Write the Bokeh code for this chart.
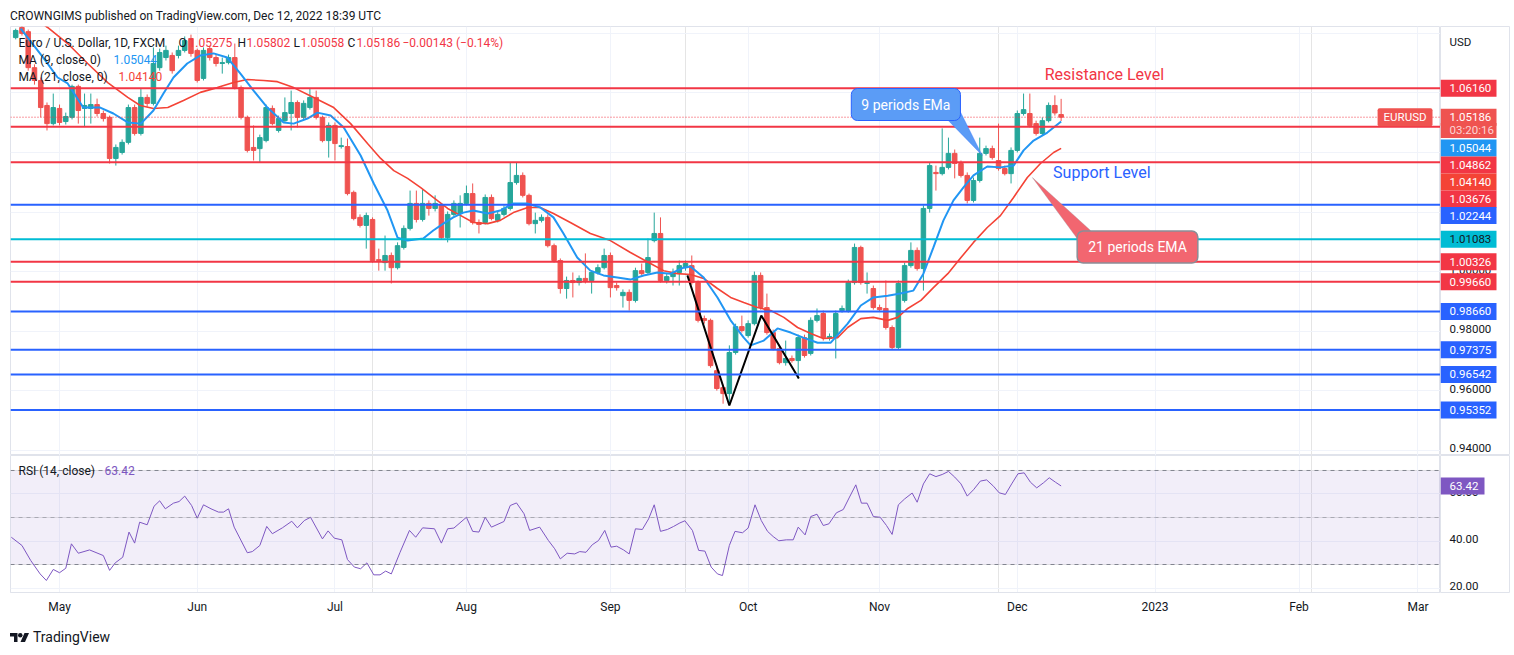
from bokeh.plotting import figure
from bokeh.models import (ColumnDataSource, Range1d, LinearAxis, FixedTicker, Grid, Span, Label,
                          BoxAnnotation, PolyAnnotation, Div)
from bokeh.layouts import column, row
from bokeh.core.properties import value
from bokeh.embed import file_html
from bokeh.resources import INLINE

# EUR/USD daily candles (FXCM), bar 0 = 2 May 2022
first_bar = -7
opens = [1.0786, 1.0820, 1.0806, 1.0685, 1.0642, 1.0558, 1.0497, 1.0548, 1.0504, 1.0518,
         1.0622, 1.0548, 1.0548, 1.0561, 1.0531, 1.0518, 1.0380, 1.0400, 1.0434, 1.0551,
         1.0464, 1.0585, 1.0565, 1.0685, 1.0719, 1.0726, 1.0726, 1.0743, 1.0783, 1.0743,
         1.0649, 1.0749, 1.0719, 1.0699, 1.0702, 1.0719, 1.0618, 1.0518, 1.0417, 1.0413,
         1.0440, 1.0548, 1.0474, 1.0507, 1.0531, 1.0568, 1.0518, 1.0551, 1.0585, 1.0518,
         1.0440, 1.0491, 1.0420, 1.0420, 1.0266, 1.0182, 1.0155, 1.0175, 1.0040, 1.0030,
         1.0054, 1.0013, 1.0081, 1.0145, 1.0229, 1.0175, 1.0229, 1.0212, 1.0222, 1.0114,
         1.0192, 1.0195, 1.0229, 1.0262, 1.0165, 1.0165, 1.0249, 1.0172, 1.0192, 1.0212,
         1.0299, 1.0323, 1.0256, 1.0161, 1.0172, 1.0182, 1.0087, 1.0037, 0.9943, 0.9970,
         0.9963, 0.9977, 0.9970, 0.9997, 1.0013, 1.0054, 0.9953, 0.9919, 0.9930, 0.9903,
         1.0003, 0.9997, 1.0104, 1.0128, 0.9970, 0.9983, 0.9997, 1.0013, 1.0020, 0.9963,
         0.9842, 0.9836, 0.9667, 0.9610, 0.9590, 0.9728, 0.9815, 0.9785, 0.9825, 0.9987,
         0.9879, 0.9795, 0.9741, 0.9694, 0.9708, 0.9701, 0.9778, 0.9725, 0.9836, 0.9859,
         0.9775, 0.9778, 0.9869, 0.9869, 0.9963, 1.0081, 0.9960, 0.9943, 0.9879, 0.9876,
         0.9812, 0.9745, 0.9903, 1.0020, 1.0071, 1.0010, 1.0212, 1.0333, 1.0329, 1.0350,
         1.0397, 1.0363, 1.0323, 1.0239, 1.0306, 1.0397, 1.0413, 1.0373, 1.0346, 1.0329,
         1.0407, 1.0531, 1.0531, 1.0497, 1.0464, 1.0507, 1.0558, 1.05275]
highs = [1.0816, 1.0830, 1.0813, 1.0696, 1.0652, 1.0568, 1.0598, 1.0561, 1.0534, 1.0628,
         1.0628, 1.0598, 1.0598, 1.0581, 1.0541, 1.0524, 1.0427, 1.0444, 1.0561, 1.0561,
         1.0615, 1.0595, 1.0753, 1.0749, 1.0759, 1.0736, 1.0759, 1.0790, 1.0796, 1.0749,
         1.0753, 1.0759, 1.0729, 1.0719, 1.0729, 1.0766, 1.0625, 1.0524, 1.0491, 1.0460,
         1.0561, 1.0558, 1.0524, 1.0585, 1.0608, 1.0575, 1.0575, 1.0615, 1.0608, 1.0524,
         1.0501, 1.0501, 1.0450, 1.0447, 1.0272, 1.0192, 1.0198, 1.0182, 1.0077, 1.0121,
         1.0064, 1.0098, 1.0155, 1.0272, 1.0272, 1.0276, 1.0239, 1.0256, 1.0229, 1.0202,
         1.0239, 1.0256, 1.0289, 1.0296, 1.0175, 1.0259, 1.0259, 1.0202, 1.0222, 1.0366,
         1.0366, 1.0333, 1.0262, 1.0198, 1.0192, 1.0192, 1.0094, 1.0044, 0.9983, 0.9997,
         0.9987, 1.0061, 1.0003, 1.0024, 1.0077, 1.0064, 0.9963, 0.9940, 0.9940, 1.0013,
         1.0027, 1.0111, 1.0198, 1.0182, 0.9993, 1.0010, 1.0037, 1.0037, 1.0054, 0.9970,
         0.9852, 0.9842, 0.9684, 0.9620, 0.9752, 0.9825, 0.9852, 0.9836, 1.0000, 0.9997,
         0.9926, 0.9805, 0.9752, 0.9768, 0.9718, 0.9788, 0.9788, 0.9846, 0.9876, 0.9869,
         0.9792, 0.9869, 0.9886, 0.9973, 1.0094, 1.0087, 0.9997, 0.9953, 0.9889, 0.9970,
         0.9819, 0.9970, 1.0030, 1.0098, 1.0081, 1.0222, 1.0366, 1.0356, 1.0481, 1.0450,
         1.0410, 1.0373, 1.0333, 1.0316, 1.0450, 1.0423, 1.0423, 1.0497, 1.0356, 1.0417,
         1.0541, 1.0598, 1.0598, 1.0507, 1.0518, 1.0568, 1.0592, 1.05802]
lows = [1.0780, 1.0793, 1.0675, 1.0628, 1.0518, 1.0474, 1.0491, 1.0491, 1.0494, 1.0511,
        1.0497, 1.0487, 1.0497, 1.0521, 1.0504, 1.0363, 1.0356, 1.0393, 1.0427, 1.0457,
        1.0457, 1.0554, 1.0558, 1.0675, 1.0709, 1.0665, 1.0716, 1.0736, 1.0722, 1.0635,
        1.0642, 1.0709, 1.0689, 1.0665, 1.0696, 1.0612, 1.0511, 1.0400, 1.0373, 1.0366,
        1.0434, 1.0491, 1.0467, 1.0501, 1.0474, 1.0484, 1.0511, 1.0544, 1.0511, 1.0434,
        1.0383, 1.0373, 1.0413, 1.0256, 1.0172, 1.0148, 1.0077, 1.0030, 1.0003, 1.0003,
        0.9960, 1.0007, 1.0074, 1.0138, 1.0165, 1.0168, 1.0188, 1.0202, 1.0108, 1.0098,
        1.0185, 1.0148, 1.0222, 1.0158, 1.0128, 1.0158, 1.0172, 1.0165, 1.0185, 1.0205,
        1.0292, 1.0249, 1.0155, 1.0128, 1.0165, 1.0081, 1.0030, 0.9926, 0.9909, 0.9913,
        0.9953, 0.9960, 0.9926, 0.9990, 1.0007, 0.9913, 0.9936, 0.9879, 0.9869, 0.9896,
        0.9987, 0.9990, 1.0098, 0.9963, 0.9960, 0.9953, 0.9953, 1.0003, 0.9956, 0.9829,
        0.9825, 0.9677, 0.9600, 0.9556, 0.9550, 0.9721, 0.9795, 0.9778, 0.9819, 0.9872,
        0.9788, 0.9735, 0.9688, 0.9684, 0.9694, 0.9641, 0.9711, 0.9718, 0.9829, 0.9768,
        0.9768, 0.9708, 0.9862, 0.9862, 0.9956, 0.9956, 0.9926, 0.9872, 0.9866, 0.9805,
        0.9738, 0.9738, 0.9896, 1.0013, 1.0003, 0.9936, 1.0198, 1.0272, 1.0323, 1.0343,
        1.0313, 1.0316, 1.0229, 1.0232, 1.0299, 1.0390, 1.0376, 1.0339, 1.0323, 1.0296,
        1.0400, 1.0524, 1.0484, 1.0457, 1.0457, 1.0501, 1.0524, 1.05058]
closes = [1.0810, 1.0800, 1.0685, 1.0642, 1.0551, 1.0497, 1.0551, 1.0501, 1.0521, 1.0622,
          1.0541, 1.0558, 1.0561, 1.0531, 1.0514, 1.0380, 1.0417, 1.0434, 1.0551, 1.0464,
          1.0585, 1.0565, 1.0699, 1.0736, 1.0743, 1.0675, 1.0743, 1.0776, 1.0733, 1.0642,
          1.0743, 1.0719, 1.0699, 1.0702, 1.0719, 1.0618, 1.0518, 1.0407, 1.0407, 1.0450,
          1.0551, 1.0497, 1.0514, 1.0534, 1.0568, 1.0518, 1.0565, 1.0585, 1.0518, 1.0440,
          1.0491, 1.0430, 1.0423, 1.0262, 1.0178, 1.0155, 1.0188, 1.0037, 1.0037, 1.0054,
          1.0013, 1.0087, 1.0145, 1.0229, 1.0175, 1.0229, 1.0212, 1.0229, 1.0114, 1.0192,
          1.0229, 1.0229, 1.0262, 1.0165, 1.0158, 1.0249, 1.0178, 1.0192, 1.0212, 1.0299,
          1.0323, 1.0256, 1.0161, 1.0172, 1.0182, 1.0087, 1.0037, 0.9943, 0.9970, 0.9963,
          0.9977, 0.9970, 0.9997, 1.0013, 1.0054, 0.9946, 0.9946, 0.9930, 0.9903, 1.0003,
          0.9993, 1.0047, 1.0128, 0.9970, 0.9983, 0.9997, 1.0020, 1.0027, 0.9963, 0.9836,
          0.9836, 0.9684, 0.9607, 0.9590, 0.9728, 0.9815, 0.9802, 0.9825, 0.9987, 0.9879,
          0.9795, 0.9741, 0.9694, 0.9708, 0.9701, 0.9778, 0.9718, 0.9836, 0.9852, 0.9778,
          0.9782, 0.9859, 0.9876, 0.9963, 1.0081, 0.9963, 0.9963, 0.9879, 0.9872, 0.9812,
          0.9745, 0.9960, 1.0020, 1.0071, 1.0010, 1.0212, 1.0356, 1.0329, 1.0350, 1.0397,
          1.0363, 1.0323, 1.0239, 1.0306, 1.0397, 1.0413, 1.0383, 1.0346, 1.0329, 1.0407,
          1.0531, 1.0544, 1.0491, 1.0464, 1.0507, 1.0558, 1.05329, 1.05186]

# moving averages (9 and 21 close), traced as line vertices
ma9_x = [-6.2, -2.6, -0.3, 1.3, 3.8, 6.5, 8.6, 10.9, 13.0, 15.0, 16.6, 18.2, 20.4, 22.5, 24.6,
         26.8, 28.9, 31.0, 33.2, 35.8, 37.4, 39.6, 41.2, 43.3, 45.4, 48.1, 50.2, 52.4, 54.0,
         55.6, 58.1, 59.7, 61.3, 62.9, 64.5, 66.1, 68.4, 70.4, 72.5, 74.7, 76.8, 78.9, 80.5,
         82.7, 84.8, 86.9, 89.1, 91.2, 93.3, 95.5, 97.6, 99.7, 100.8, 102.9, 105.1, 107.2,
         109.3, 110.4, 112.5, 114.7, 116.8, 118.8, 121.1, 123.2, 125.9, 128.0, 130.0, 132.3,
         134.3, 136.4, 138.0, 139.6, 141.2, 142.8, 144.4, 146.0, 148.2, 150.3, 152.4, 154.0,
         155.6, 157.8, 160.0]
ma9_y = [1.0816, 1.0719, 1.0652, 1.0632, 1.0551, 1.0551, 1.0531, 1.0501, 1.0497, 1.0541, 1.0598,
         1.0652, 1.0699, 1.0726, 1.0733, 1.0719, 1.0665, 1.0608, 1.0551, 1.0501, 1.0497, 1.0514,
         1.0534, 1.0524, 1.0484, 1.0390, 1.0296, 1.0205, 1.0114, 1.0104, 1.0111, 1.0138, 1.0161,
         1.0182, 1.0198, 1.0205, 1.0195, 1.0205, 1.0229, 1.0229, 1.0215, 1.0182, 1.0128, 1.0047,
         1.0003, 0.9987, 0.9980, 0.9973, 0.9987, 0.9997, 0.9993, 1.0013, 1.0017, 0.9980, 0.9913,
         0.9836, 0.9778, 0.9752, 0.9768, 0.9809, 0.9795, 0.9778, 0.9761, 0.9761, 0.9825, 0.9886,
         0.9913, 0.9919, 0.9926, 0.9936, 0.9993, 1.0081, 1.0172, 1.0239, 1.0283, 1.0323, 1.0353,
         1.0350, 1.0356, 1.0407, 1.0440, 1.0467, 1.05044]
ma21_x = [-3.4, -1.9, 1.3, 4.5, 7.7, 10.9, 12.9, 15.0, 17.3, 19.8, 22.5, 25.2, 27.8, 30.0, 32.6,
          34.8, 37.4, 40.6, 43.8, 46.5, 49.2, 51.3, 53.4, 55.6, 57.7, 59.7, 62.0, 64.1, 66.1,
          68.4, 70.4, 72.5, 74.8, 76.8, 78.9, 81.6, 84.8, 88.0, 91.2, 94.4, 96.5, 98.7, 100.8,
          102.9, 105.1, 107.2, 109.3, 111.5, 113.6, 115.7, 117.9, 120.0, 122.0, 124.3, 125.9,
          128.0, 130.0, 132.3, 133.9, 135.5, 137.6, 139.6, 141.9, 144.0, 146.0, 148.2, 150.3,
          152.4, 154.6, 156.7, 158.8, 160.0]
ma21_y = [1.0843, 1.0820, 1.0766, 1.0699, 1.0635, 1.0585, 1.0558, 1.0548, 1.0551, 1.0575, 1.0602,
          1.0618, 1.0635, 1.0645, 1.0642, 1.0638, 1.0618, 1.0585, 1.0551, 1.0497, 1.0430, 1.0380,
          1.0339, 1.0313, 1.0282, 1.0249, 1.0212, 1.0188, 1.0165, 1.0161, 1.0172, 1.0198, 1.0215,
          1.0215, 1.0195, 1.0165, 1.0128, 1.0104, 1.0064, 1.0027, 1.0003, 0.9993, 0.9990, 0.9977,
          0.9943, 0.9913, 0.9896, 0.9879, 0.9869, 0.9846, 0.9812, 0.9792, 0.9775, 0.9778, 0.9812,
          0.9842, 0.9846, 0.9836, 0.9846, 0.9876, 0.9903, 0.9946, 0.9993, 1.0047, 1.0098, 1.0148,
          1.0188, 1.0249, 1.0316, 1.0363, 1.0400, 1.0414]

# RSI (14, close)
rsi_x = [-7.7, -6.0, -4.6, -3.1, -2.1, -1.0, 0, 1, 1.9, 3, 4.8, 7, 8, 8.9, 10.1, 11.1, 12, 12.8,
         14, 15.1, 16, 16.9, 18.2, 19.1, 20, 21.1, 22, 23, 24.2, 25.4, 26.2, 27, 27.9, 30, 30.8,
         32, 33.1, 34, 35.6, 37.1, 38, 39.1, 40.1, 42, 42.9, 43.9, 45.1, 46, 47.1, 48.1, 49.1,
         50.2, 51.2, 52.1, 53, 54.4, 55.9, 56.9, 58, 59.9, 61, 62, 63, 65, 66, 67, 68, 69, 71,
         72, 73, 74.2, 75.1, 76.7, 78.1, 79.1, 80, 81.1, 82.3, 83.1, 84.1, 85.1, 86.1, 87.1,
         88.1, 89, 90.1, 91, 92, 93.1, 94.1, 95, 96, 97.1, 98.1, 99.1, 99.9, 101.1, 102.1,
         103.1, 104.1, 105.1, 105.9, 107, 107.9, 109.1, 110, 111.1, 112.1, 113.1, 114, 114.9,
         116.1, 117.2, 118, 119.1, 120, 121, 122, 122.9, 124.1, 125.2, 126.2, 127.2, 128.1,
         129, 130, 131.1, 132.1, 133, 134, 135, 136.2, 137, 138, 139, 140, 141, 142, 143, 144,
         145, 146, 147.1, 148.1, 149.2, 150.1, 151.1, 152.1, 153.1, 154.1, 155.1, 156.1, 157.2,
         158.1, 159.1, 160]
rsi_y = [41.6, 38.1, 31.7, 26.0, 23.2, 27.9, 26.5, 28.4, 38.8, 34.8, 36.2, 33.8, 27.5, 30.7, 33.1,
         43.8, 39.1, 48.0, 46.9, 54.8, 57.1, 53.7, 56.1, 56.8, 59.1, 55.1, 49.7, 55.4, 53.7, 52.3,
         52.3, 53.7, 45.9, 35.0, 35.5, 38.1, 46.2, 43.1, 45.6, 48.4, 45.6, 48.7, 50.1, 40.9, 44.3,
         41.2, 40.5, 32.1, 28.9, 28.2, 30.7, 25.6, 25.6, 27.2, 26.0, 35.2, 44.5, 41.6, 45.6, 45.2,
         39.1, 45.2, 45.5, 50.1, 44.1, 43.8, 50.1, 45.9, 48.3, 55.1, 56.2, 51.6, 44.5, 45.9, 40.2,
         36.7, 32.4, 34.8, 34.5, 35.5, 35.2, 38.4, 40.2, 44.5, 37.4, 37.8, 36.2, 34.5, 45.2, 44.9,
         49.4, 55.4, 44.1, 44.9, 46.2, 47.7, 48.6, 44.5, 36.0, 35.7, 28.9, 26.0, 25.3, 38.1, 44.1,
         43.5, 45.5, 55.4, 48.7, 44.1, 41.9, 40.1, 40.5, 40.5, 45.9, 42.6, 50.4, 51.4, 46.6, 47.3,
         52.0, 53.4, 58.7, 63.9, 56.1, 56.1, 50.4, 50.1, 46.6, 42.8, 55.4, 57.9, 60.4, 56.5, 64.3,
         68.6, 67.4, 68.3, 69.6, 67.2, 64.3, 59.1, 61.8, 65.5, 66.0, 63.3, 60.5, 59.8, 64.3, 68.6,
         69.0, 65.0, 62.6, 64.8, 66.9, 65.0, 63.42]

# drawn levels
red_levels = [1.06160, 1.04862, 1.03676, 1.00326, 0.99660]
blue_levels = [1.02244, 0.98660, 0.97375, 0.96542, 0.95352]
cyan_levels = [1.01083]

# double-bottom sketch
pattern_x = [100.3, 107.0, 112.1, 118.1]
pattern_y = [0.9987, 0.9550, 0.9852, 0.9641]

price_ticks = [0.94, 0.96, 0.98, 1.00]
rsi_ticks = [20, 40, 60]
month_ticks = [0, 22, 44, 65, 88, 110, 131, 153, 175, 198, 217]
month_labels = ["May", "Jun", "Jul", "Aug", "Sep", "Oct", "Nov", "Dec", "2023", "Feb", "Mar"]

UP, DOWN = "#26a69a", "#ef5350"
RED, BLUE, CYAN = "#f23645", "#2962ff", "#00bcd4"
MA9_C, MA21_C, RSI_C = "#2196f3", "#f44336", "#7e57c2"
INK, GRID, EDGE = "#131722", "#f0f3fa", "#e0e3eb"
FONT = "Roboto"

X0, X1 = -7.83, 220.6
price_range = Range1d(0.9382, 1.08233)
rsi_range = Range1d(18.09, 76.38)
x_range = Range1d(X0, X1)

bars = list(range(first_bar, first_bar + len(closes)))
src = ColumnDataSource(dict(
    x=bars, o=opens, h=highs, l=lows, c=closes,
    top=[max(a, b) for a, b in zip(opens, closes)],
    bot=[min(a, b) for a, b in zip(opens, closes)],
    color=[UP if c >= o else DOWN for o, c in zip(opens, closes)],
))


def chart(height, y_range, bottom):
    f = figure(width=1440, height=height, x_range=x_range, y_range=y_range,
               output_backend="svg", toolbar_location=None, title=None,
               x_axis_location=None, y_axis_location=None,
               min_border_left=10, min_border_right=0, min_border_top=0, min_border_bottom=bottom)
    f.outline_line_color = EDGE
    f.border_fill_color = "white"
    f.add_layout(Grid(dimension=0, ticker=FixedTicker(ticks=month_ticks), grid_line_color=GRID))
    return f


def scale(height, y_range, bottom):
    # the price scale strip on the right
    f = figure(width=70, height=height, x_range=Range1d(0, 70), y_range=y_range,
               output_backend="svg", toolbar_location=None, title=None,
               x_axis_location=None, y_axis_location=None,
               min_border_left=0, min_border_right=0, min_border_top=0, min_border_bottom=bottom)
    f.outline_line_color = EDGE
    f.border_fill_color = "white"
    f.xgrid.visible = False
    f.ygrid.visible = False
    return f


def label(f, x, y, s, color=INK, size="12px", dx=0, dy=0, align="left", **kw):
    f.add_layout(Label(x=x, y=y, x_offset=dx, y_offset=dy, text=s, text_color=color,
                       text_font=FONT, text_font_size=size, text_align=align,
                       text_baseline="middle", **kw))


def tags(f, ticks, fmt, items):
    f.text(x=[9] * len(ticks), y=ticks, text=[fmt % t for t in ticks], text_color=INK,
           text_font=value(FONT), text_font_size="11.5px", text_baseline="middle", y_offset=-2)
    ts = ColumnDataSource(dict(
        y=[it[1] for it in items], text=[it[0] for it in items],
        bg=[it[2] for it in items], fg=[it[3] for it in items],
        cx=[it[4] / 2 for it in items], w=[it[4] for it in items], h=[it[5] for it in items]))
    f.rect(x="cx", y="y", width="w", height="h", height_units="screen",
           fill_color="bg", line_color=None, source=ts)
    f.text(x=9, y="y", text="text", text_color="fg", text_font=value(FONT),
           text_font_size="11.5px", text_baseline="middle", source=ts)


# ---------------- price panel ----------------
p = chart(429, price_range, 0)
p.add_layout(Grid(dimension=1, ticker=FixedTicker(ticks=[0.94, 0.96, 0.98, 1.00, 1.02, 1.04, 1.06, 1.08]),
                  grid_line_color=GRID))

p.segment(x0="x", y0="l", x1="x", y1="h", color="color", line_width=1, source=src)
p.vbar(x="x", width=0.72, top="top", bottom="bot", fill_color="color", line_color="color", source=src)

p.line(ma21_x, ma21_y, color=MA21_C, line_width=1.6)
p.line(ma9_x, ma9_y, color=MA9_C, line_width=2)
p.line(pattern_x, pattern_y, color="black", line_width=2)

for levels, col in [(red_levels, RED), (blue_levels, BLUE), (cyan_levels, CYAN)]:
    for lv in levels:
        p.add_layout(Span(location=lv, dimension="width", line_color=col, line_width=2))
p.add_layout(Span(location=closes[-1], dimension="width", line_color=RED, line_width=1, line_dash="1 2"))

# callouts
p.add_layout(PolyAnnotation(xs=[142.0, 143.8, 147.4], ys=[1.0507, 1.0541, 1.0390],
                            fill_color="#5b9cf6", fill_alpha=1, line_color="#2962ff", line_width=1))
p.add_layout(PolyAnnotation(xs=[155.4, 162.8, 164.7], ys=[1.0316, 1.0104, 1.0138],
                            fill_color="#f26670", fill_alpha=1, line_color="#8a8d96", line_width=1))
label(p, 135.2, 1.05612, "9 periods EMa", color="white", size="14px", align="center",
      background_fill_color="#5b9cf6", border_line_color="#2962ff", border_radius=6,
      padding=dict(left=10, right=10, top=8, bottom=8))
label(p, 172.2, 1.00824, "21 periods EMA", color="white", size="14px", align="center",
      background_fill_color="#f26670", border_line_color="#8a8d96", border_line_width=1.5,
      border_radius=6, padding=dict(left=11, right=11, top=8, bottom=8))
label(p, 166.9, 1.0662, "Resistance Level", color=RED, size="16px", align="center")
label(p, 166.5, 1.03338, "Support Level", color=BLUE, size="16px", align="center")

# legend rows (x = page position of each piece)
chg = closes[-1] - closes[-2]
row1 = [("Euro / U.S. Dollar, 1D, FXCM", 18, INK), ("O", 178, INK), (f"{opens[-1]:.5f}", 188, RED),
        ("H", 237, INK), (f"{highs[-1]:.5f}", 246, RED), ("L", 293, INK), (f"{lows[-1]:.5f}", 300, RED),
        ("C", 347, INK), (f"{closes[-1]:.5f}", 356, RED),
        (f"\u2212{abs(chg):.5f} (\u2212{abs(chg) / closes[-2] * 100:.2f}%)", 402, RED)]
for s, px, col in row1:
    label(p, X0, price_range.end, s, color=col, dx=px - 10, dy=-16)
label(p, X0, price_range.end, "MA (9, close, 0)", dx=8, dy=-33)
label(p, X0, price_range.end, f"{ma9_y[-1]:.5f}", color=MA9_C, dx=103, dy=-33)
label(p, X0, price_range.end, "MA (21, close, 0)", dx=8, dy=-50)
label(p, X0, price_range.end, f"{ma21_y[-1]:.5f}", color=MA21_C, dx=108, dy=-50)
label(p, X1, closes[-1], "EURUSD", color="white", size="11.5px", dx=-8, align="right",
      background_fill_color=DOWN, border_radius=2, padding=dict(left=6, right=6, top=2, bottom=2))

ps = scale(429, price_range, 0)
ps.text(x=[9], y=[1.07729], text=["USD"], text_color=INK, text_font=value(FONT),
        text_font_size="11.5px", text_baseline="middle")
# (text, shown at, background, text colour, width px, height px)
price_tags = [
    ("1.06160", 1.06160, RED, "white", 56, 17),
    (f"{closes[-1]:.5f}", closes[-1], DOWN, "white", 56, 17),
    ("03:20:16", 1.04739, DOWN, "#fcd4d4", 56, 15),
    (f"{ma9_y[-1]:.5f}", 1.04151, MA9_C, "white", 56, 17),
    ("1.04862", 1.03580, RED, "white", 56, 17),
    (f"{ma21_y[-1]:.5f}", 1.03009, MA21_C, "white", 56, 17),
    ("1.03676", 1.02434, RED, "white", 56, 17),
    ("1.02244", 1.01883, BLUE, "white", 56, 17),
    ("1.01083", 1.01083, CYAN, INK, 56, 17),
    ("1.00326", 1.00326, RED, "white", 56, 17),
    ("0.99660", 0.99660, RED, "white", 56, 17),
    ("0.98660", 0.98660, BLUE, "white", 56, 17),
    ("0.97375", 0.97375, BLUE, "white", 56, 17),
    ("0.96542", 0.96542, BLUE, "white", 56, 17),
    ("0.95352", 0.95352, BLUE, "white", 56, 17),
]
tags(ps, price_ticks, "%.5f", price_tags)

# ---------------- RSI panel ----------------
r = chart(165, rsi_range, 28)
r.add_layout(Grid(dimension=1, ticker=FixedTicker(ticks=rsi_ticks), grid_line_color=GRID))
xax = LinearAxis(ticker=FixedTicker(ticks=month_ticks),
                 major_label_overrides=dict(zip(month_ticks, month_labels)),
                 axis_line_color=EDGE, major_tick_line_color=None, minor_tick_line_color=None,
                 major_label_standoff=1, major_label_text_font=FONT,
                 major_label_text_font_size="12px", major_label_text_color=INK)
r.add_layout(xax, "below")

r.add_layout(BoxAnnotation(bottom=30, top=70, fill_color=RSI_C, fill_alpha=0.1, line_color=None))
for lv, a in [(70, 0.9), (50, 0.5), (30, 0.9)]:
    r.add_layout(Span(location=lv, dimension="width", line_color="#787b86", line_alpha=a,
                      line_width=1, line_dash="4 4"))
r.line(rsi_x, rsi_y, color=RSI_C, line_width=1)
label(r, X0, rsi_range.end, "RSI (14, close)", dx=8, dy=-15)
label(r, X0, rsi_range.end, f"{rsi_y[-1]:.2f}", color=RSI_C, dx=94, dy=-15)

rs = scale(165, rsi_range, 28)
tags(rs, rsi_ticks, "%.2f", [(f"{rsi_y[-1]:.2f}", rsi_y[-1], RSI_C, "white", 44, 17)])

header = Div(text='<div style="position:relative;top:8px;left:10px;line-height:12px;white-space:nowrap">'
                  'CROWNGIMS published on TradingView.com, Dec 12, 2022 18:39 UTC</div>',
             width=1510, height=26, margin=(0, 0, 0, 0),
             styles={"font-family": FONT, "font-size": "12px", "color": INK})
logo = ('<div style="position:relative;top:10px;left:10px;display:flex;align-items:center;'
        'gap:4px;font-family:Roboto;font-size:14px;line-height:15px;color:#131722;white-space:nowrap">'
        '<svg width="19" height="9" viewBox="0 0 38 18">'
        '<path d="M0 0h15v18H8V7H0z" fill="#131722"/>'
        '<circle cx="20.5" cy="4.5" r="4.5" fill="#131722"/>'
        '<path d="M29 0h9l-8 18h-9z" fill="#131722"/></svg>TradingView</div>')
footer = Div(text=logo, width=300, height=29, margin=(0, 0, 0, 0))

layout = column(header, row(p, ps, spacing=0), row(r, rs, spacing=0), footer, spacing=0)
open("out.html", "w").write(file_html(layout, INLINE))
